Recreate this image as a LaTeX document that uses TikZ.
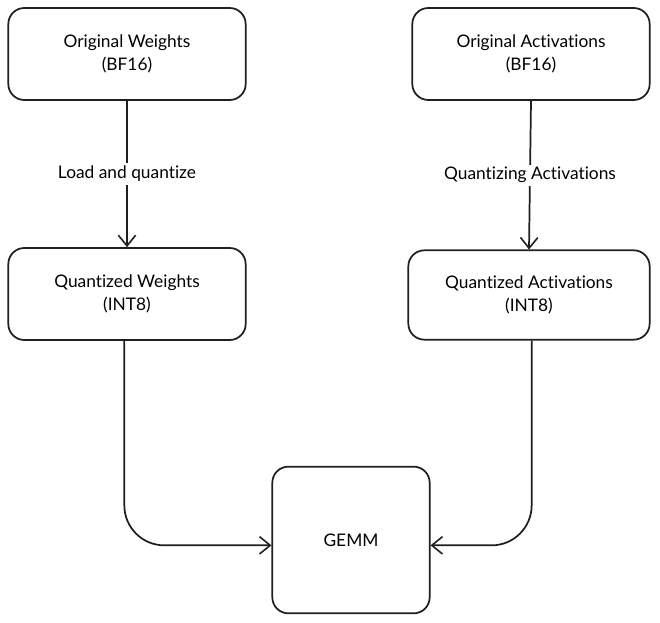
\documentclass[tikz,border=0pt]{standalone}
\usepackage{fontspec}
\setmainfont[Ligatures={NoCommon}]{Lato}
\usepackage{tikz}
\usetikzlibrary{arrows.meta, positioning, calc}
\tikzset{
  %% Sketch-style rounded box
  sbox/.style={
    rectangle, rounded corners=12pt,
    draw=black!88, fill=white,
    text centered, align=center, font=\fontsize{13}{17}\selectfont,
    minimum width=178pt, minimum height=69pt,
    inner sep=3pt, line width=1.3pt
  },
  %% Arrow
  arr/.style={-{Straight Barb[length=8pt,width=13pt,line width=1.2pt]},
              draw=black!88, line width=1.3pt},
  %% Label sitting on a connector
  elabel/.style={fill=white, font=\fontsize{13}{15}\selectfont,
                 inner sep=2pt},
}
\begin{document}
\begin{tikzpicture}[x=0.75pt, y=-0.75pt]

  \useasboundingbox[fill=white] (0,0) rectangle (660,623);

  %% Source tensors
  \node[sbox] (origw) at (127,54)  {Original Weights\\(BF16)};
  \node[sbox] (origa) at (531,54)  {Original Activations\\(BF16)};

  %% Quantized tensors
  \node[sbox] (quantw) at (127,294) {Quantized Weights\\(INT8)};
  \node[sbox, minimum width=181pt, minimum height=67pt]
       (quanta) at (529,295) {Quantized Activations\\(INT8)};

  %% Matrix multiply
  \node[sbox, minimum width=118pt, minimum height=110pt]
       (gemm) at (351,540) {GEMM};

  %% Quantization steps
  \draw[arr] (origw.south) -- (quantw.north)
       node[elabel, midway] {Load and quantize};
  \draw[arr] (origa.south) -- (quanta.north)
       node[elabel, midway] {Quantizing Activations};

  %% Into GEMM
  \draw[arr, rounded corners=30pt]
       ([xshift=-2pt]quantw.south) |- ([yshift=-4pt]gemm.west);
  \draw[arr, rounded corners=30pt]
       ([xshift=2pt]quanta.south) |- ([yshift=-4pt]gemm.east);

\end{tikzpicture}
\end{document}
